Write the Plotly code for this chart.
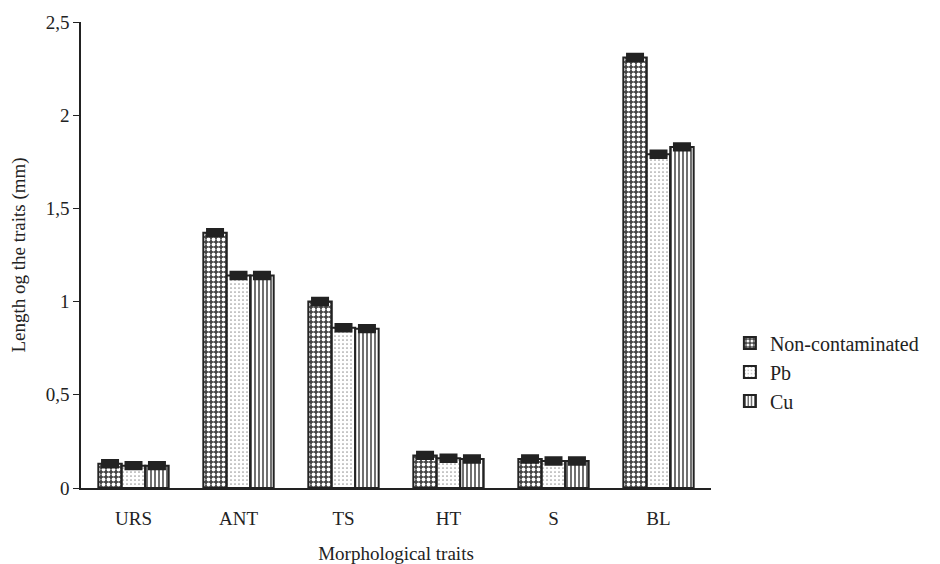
import plotly.graph_objects as go

categories = ["URS", "ANT", "TS", "HT", "S", "BL"]
non_contaminated = [0.13, 1.37, 1.00, 0.175, 0.155, 2.31]
pb = [0.12, 1.14, 0.86, 0.160, 0.145, 1.79]
cu = [0.12, 1.14, 0.855, 0.155, 0.145, 1.83]
err_nc = [0.012, 0.012, 0.012, 0.012, 0.012, 0.012]
err_pb = [0.012, 0.012, 0.012, 0.012, 0.012, 0.012]
err_cu = [0.012, 0.012, 0.012, 0.012, 0.012, 0.012]

FONT = "Times New Roman, Liberation Serif, DejaVu Serif, serif"

def bar(name, y, err, pattern):
    return go.Bar(
        name=name, x=categories, y=y,
        marker=dict(color="white", line=dict(color="#222222", width=2), pattern=pattern),
        error_y=dict(type="data", array=err, visible=True, color="#222222", thickness=5, width=9),
    )

fig = go.Figure()
fig.add_trace(bar("Non-contaminated", non_contaminated, err_nc,
                  dict(shape=".", fgcolor="white", bgcolor="#444444", size=5, solidity=0.45, fillmode="replace")))
fig.add_trace(bar("Pb", pb, err_pb,
                  dict(shape=".", fgcolor="#9a9a9a", bgcolor="white", size=4, solidity=0.15, fillmode="replace")))
fig.add_trace(bar("Cu", cu, err_cu,
                  dict(shape="|", fgcolor="#333333", bgcolor="white", size=4, solidity=0.35, fillmode="replace")))

fig.update_layout(
    width=940, height=564,
    margin=dict(l=73, r=237, t=14, b=84),
    paper_bgcolor="white", plot_bgcolor="white",
    barmode="group", bargap=0.33, bargroupgap=0.0,
    separators=",.",
    font=dict(family=FONT, size=19, color="#222222"),
    showlegend=True,
    legend=dict(x=1.03, y=0.249, yanchor="middle", xanchor="left",
                font=dict(family=FONT, size=20, color="#222222"),
                tracegroupgap=0, itemwidth=30, bgcolor="rgba(0,0,0,0)"),
    xaxis=dict(showline=True, linecolor="#222222", linewidth=1.5, ticks="", automargin=False,
               ticklabelstandoff=12, tickfont=dict(family=FONT, size=19),
               title=dict(text="Morphological traits", font=dict(family=FONT, size=19), standoff=19)),
    yaxis=dict(range=[0, 2.5], dtick=0.5, showline=True, linecolor="#222222", linewidth=1.5,
               ticks="outside", ticklen=6, tickcolor="#222222", showgrid=False, zeroline=False,
               automargin=False, tickfont=dict(family=FONT, size=19),
               title=dict(text="Length og the traits (mm)", font=dict(family=FONT, size=19), standoff=22)),
)

fig.write_html("out.html")
